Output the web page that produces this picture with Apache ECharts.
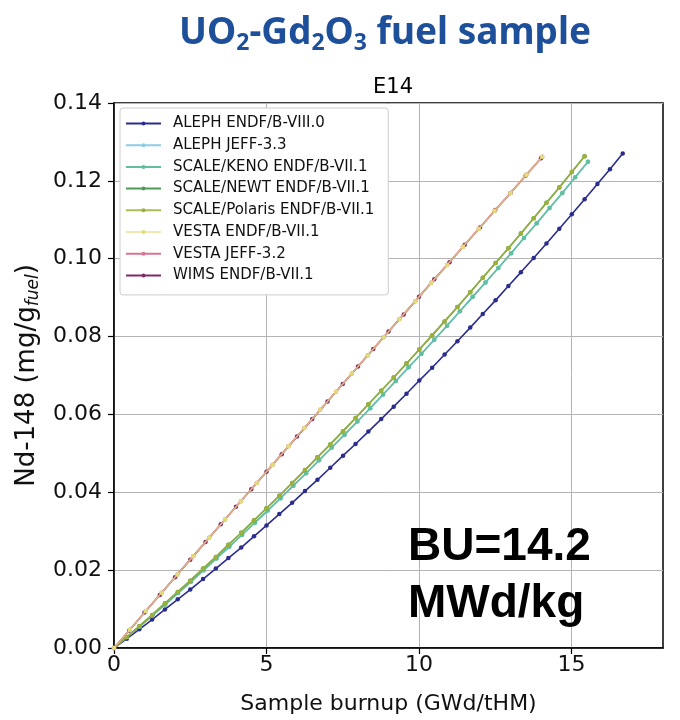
<!DOCTYPE html>
<html><head><meta charset="utf-8">
<script src="https://cdn.jsdelivr.net/npm/echarts@6/dist/echarts.min.js"></script>
<style>html,body{margin:0;padding:0;background:#fff}#c{width:680px;height:720px}</style>
</head><body><div id="c"></div>
<script>
const seriesNames = ['ALEPH ENDF/B-VIII.0','ALEPH JEFF-3.3','SCALE/KENO ENDF/B-VII.1','SCALE/NEWT ENDF/B-VII.1','SCALE/Polaris ENDF/B-VII.1','VESTA ENDF/B-VII.1','VESTA JEFF-3.2','WIMS ENDF/B-VII.1'];
const seriesColors = ['#2b2d8e','#8fcde6','#5fbf9e','#4f9a55','#9db03a','#e3dc7a','#d9738f','#7c2c66'];
const xTicks = [0,5,10,15];

// ALEPH ENDF/B-VIII.0
const xAleph = [0,0.42,0.83,1.25,1.67,2.09,2.50,2.92,3.34,3.75,4.17,4.59,5.00,5.42,5.84,6.26,6.67,7.09,7.51,7.92,8.34,8.76,9.17,9.59,10.01,10.43,10.84,11.26,11.68,12.09,12.51,12.93,13.34,13.76,14.18,14.60,15.01,15.43,15.85,16.26,16.68];
const yAleph = [0,0.0024,0.0048,0.0073,0.0099,0.0125,0.0150,0.0177,0.0204,0.0231,0.0258,0.0287,0.0315,0.0344,0.0373,0.0403,0.0432,0.0463,0.0494,0.0524,0.0556,0.0588,0.0620,0.0653,0.0687,0.0720,0.0754,0.0788,0.0823,0.0858,0.0893,0.0930,0.0965,0.1002,0.1039,0.1077,0.1114,0.1153,0.1192,0.1230,0.1270];
// SCALE/NEWT and SCALE/Polaris
const xScaleUpper = [0,0.42,0.83,1.25,1.67,2.09,2.50,2.92,3.34,3.75,4.17,4.59,5.00,5.42,5.84,6.26,6.67,7.09,7.51,7.92,8.34,8.76,9.17,9.59,10.01,10.43,10.84,11.26,11.68,12.09,12.51,12.93,13.34,13.76,14.18,14.60,15.01,15.43];
const yScaleUpper = [0,0.0028,0.0056,0.0085,0.0115,0.0144,0.0173,0.0204,0.0234,0.0265,0.0296,0.0328,0.0359,0.0391,0.0424,0.0457,0.0490,0.0523,0.0557,0.0591,0.0626,0.0661,0.0695,0.0731,0.0767,0.0803,0.0839,0.0876,0.0914,0.0951,0.0989,0.1027,0.1065,0.1104,0.1144,0.1183,0.1223,0.1263];
// SCALE/KENO and ALEPH JEFF-3.3
const xScaleLower = [0,0.42,0.84,1.26,1.68,2.10,2.52,2.94,3.36,3.78,4.20,4.62,5.04,5.46,5.88,6.30,6.72,7.14,7.56,7.98,8.40,8.82,9.24,9.66,10.08,10.50,10.92,11.34,11.76,12.18,12.60,13.02,13.44,13.86,14.28,14.70,15.12,15.54];
const yScaleLower = [0,0.0028,0.0055,0.0084,0.0112,0.0141,0.0170,0.0200,0.0230,0.0260,0.0291,0.0322,0.0353,0.0385,0.0417,0.0449,0.0482,0.0515,0.0548,0.0582,0.0616,0.0651,0.0686,0.0721,0.0756,0.0792,0.0828,0.0865,0.0902,0.0939,0.0976,0.1014,0.1053,0.1091,0.1130,0.1169,0.1209,0.1249];
// VESTA
const xVesta = [0,0.52,1.04,1.56,2.08,2.60,3.12,3.64,4.16,4.68,5.20,5.72,6.24,6.76,7.28,7.80,8.32,8.84,9.36,9.88,10.40,10.92,11.44,11.96,12.48,13.00,13.52,14.04];
const yVesta = [0,0.0047,0.0095,0.0142,0.0189,0.0236,0.0283,0.0330,0.0377,0.0424,0.0471,0.0518,0.0565,0.0612,0.0658,0.0705,0.0752,0.0798,0.0845,0.0891,0.0938,0.0984,0.1031,0.1077,0.1123,0.1169,0.1216,0.1262];
// WIMS
const xWims = [0,0.5,1.0,1.5,2.0,2.5,3.0,3.5,4.0,4.5,5.0,5.5,6.0,6.5,7.0,7.5,8.0,8.5,9.0,9.5,10.0,10.5,11.0,11.5,12.0,12.5,13.0,13.5,14.0];
const yWims = [0,0.0045,0.0091,0.0136,0.0182,0.0227,0.0272,0.0318,0.0363,0.0408,0.0453,0.0498,0.0543,0.0588,0.0633,0.0678,0.0723,0.0768,0.0813,0.0857,0.0902,0.0947,0.0991,0.1036,0.1080,0.1125,0.1169,0.1214,0.1258];

function pairs(xs, ys){ return xs.map((x,i)=>[x, ys[i]]); }
const seriesData = [
  pairs(xAleph, yAleph),
  pairs(xScaleLower, yScaleLower),
  pairs(xScaleLower, yScaleLower),
  pairs(xScaleUpper, yScaleUpper),
  pairs(xScaleUpper, yScaleUpper),
  pairs(xVesta, yVesta),
  pairs(xVesta, yVesta),
  pairs(xWims, yWims)
];
const zOrder = [3,3,4,4,5,8,6,5];
const lineOpacity = [1,1,1,1,0.85,0.6,1,1];

const chart = echarts.init(document.getElementById('c'), null, {renderer:'canvas'});
const axisFont = 'DejaVu Sans';
chart.setOption({
  animation: false,
  backgroundColor: '#fff',
  title: [{
    text: '{t|UO}{s|2}{t|-Gd}{s|2}{t|O}{s|3}{t| fuel sample}',
    left: 380, top: 10, textAlign: 'center',
    textStyle: {
      rich: {
        t: {fontSize: 37, fontWeight: 'bold', color: '#1d4f9a', fontFamily: 'Noto Sans', lineHeight: 40, verticalAlign: 'top'},
        s: {fontSize: 23, fontWeight: 'bold', color: '#1d4f9a', fontFamily: 'Noto Sans', lineHeight: 23, verticalAlign: 'bottom', padding: [24,0,0,0]}
      }
    }
  }, {
    text: 'E14', left: 388, top: 72, textAlign: 'center',
    textStyle: {fontSize: 21, fontWeight: 'normal', color: '#000', fontFamily: axisFont}
  }],
  legend: {
    orient: 'vertical', left: 120, top: 108,
    itemWidth: 35, itemHeight: 5, itemGap: 6.7,
    padding: [8, 14, 12, 5],
    borderColor: '#cccccc', borderWidth: 1, borderRadius: 3,
    backgroundColor: '#fff',
    textStyle: {fontSize: 15, color: '#111', fontFamily: axisFont, padding: [0,0,0,7]},
    data: seriesNames
  },
  grid: {left: 114, right: 17, top: 103, bottom: 64, show: true, borderColor: '#000', borderWidth: 1.5, containLabel: false},
  xAxis: {
    type: 'value', min: 0, max: 18, interval: 5,
    name: 'Sample burnup (GWd/tHM)', nameLocation: 'middle', nameGap: 45,
    nameTextStyle: {fontSize: 22, color: '#111', fontFamily: axisFont},
    axisLine: {show: true, lineStyle: {color: '#000', width: 1.5}},
    axisTick: {show: true, length: 6, lineStyle: {color: '#000', width: 1.2}, customValues: xTicks},
    axisLabel: {fontSize: 22, color: '#111', fontFamily: axisFont, margin: 6, customValues: xTicks},
    splitLine: {show: true, lineStyle: {color: '#b4b4b4', width: 1}}
  },
  yAxis: {
    type: 'value', min: 0, max: 0.14, interval: 0.02,
    name: '{a|Nd-148 (mg/g}{b|fuel}{a|)}', nameLocation: 'middle', nameGap: 70,
    nameTextStyle: {
      rich: {
        a: {fontSize: 26, color: '#111', fontFamily: axisFont, lineHeight: 28, verticalAlign: 'top'},
        b: {fontSize: 17, color: '#111', fontFamily: axisFont, fontStyle: 'italic', lineHeight: 18, verticalAlign: 'bottom', padding: [14,0,0,0]}
      }
    },
    axisLine: {show: true, lineStyle: {color: '#000', width: 1.5}},
    axisTick: {show: true, length: 6, lineStyle: {color: '#000', width: 1.2}},
    axisLabel: {fontSize: 22, color: '#111', fontFamily: axisFont, margin: 12, formatter: v => v.toFixed(2)},
    splitLine: {show: true, lineStyle: {color: '#b4b4b4', width: 1}}
  },
  graphic: [
    {type: 'text', left: 408, top: 524, z: 100, style: {text: 'BU=14.2', font: 'bold 46px "Liberation Sans"', fill: '#000'}},
    {type: 'text', left: 408, top: 581, z: 100, style: {text: 'MWd/kg', font: 'bold 46px "Liberation Sans"', fill: '#000'}}
  ],
  series: seriesNames.map((n, i) => ({
    name: n, type: 'line', data: seriesData[i], z: zOrder[i],
    symbol: 'circle', symbolSize: 4.5, showSymbol: true,
    color: seriesColors[i],
    lineStyle: {width: 1.6, color: seriesColors[i], opacity: lineOpacity[i]},
    itemStyle: {color: seriesColors[i]}
  }))
});
</script></body></html>
